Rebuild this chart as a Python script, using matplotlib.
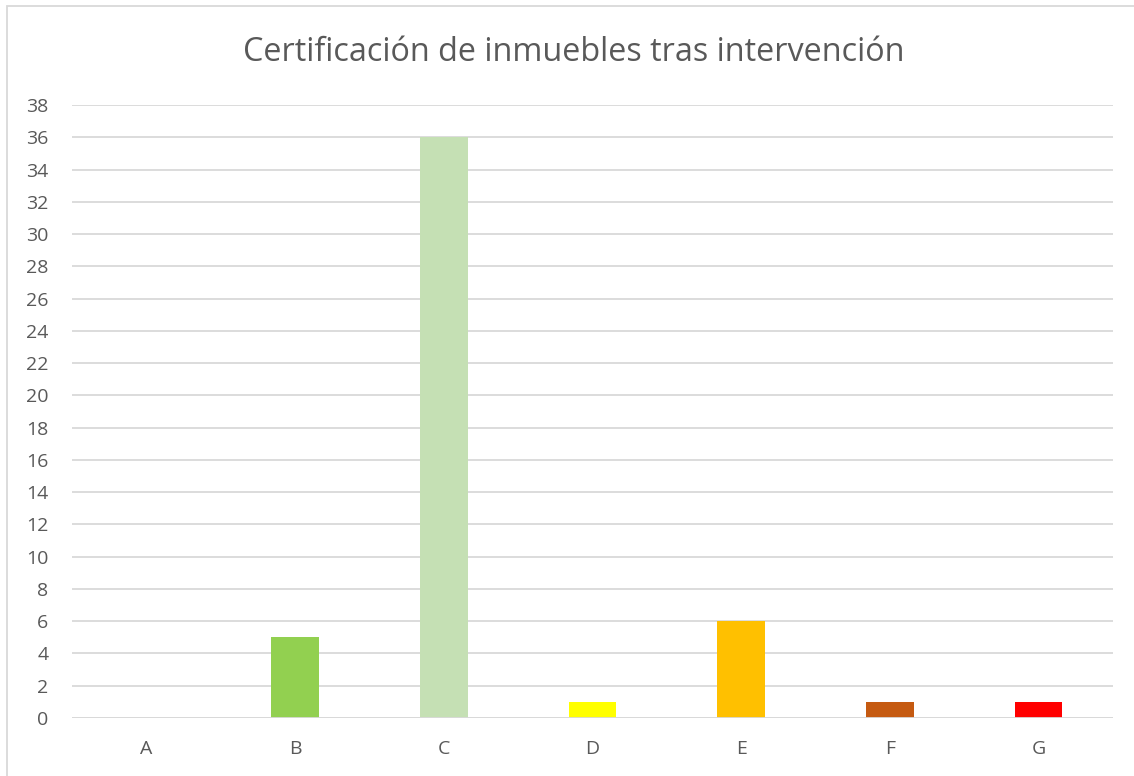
import matplotlib.pyplot as plt
from matplotlib.patches import Rectangle

# Certificación energética por letra
categories = ['A', 'B', 'C', 'D', 'E', 'F', 'G']
counts = [0, 5, 36, 1, 6, 1, 1]
colors = ['#00B050', '#92D050', '#C5E0B4', '#FFFF00', '#FFC000', '#C55A11', '#FF0000']
yticks = list(range(0, 39, 2))

plt.rcParams['font.family'] = ['Open Sans', 'DejaVu Sans']

fig = plt.figure(figsize=(11.34, 7.76), dpi=100)
ax = fig.add_axes([72 / 1134, 58 / 776, 1041 / 1134, 613 / 776])

x = list(range(len(categories)))
ax.bar(x, counts, width=0.32, color=colors, zorder=3)

ax.set_xlim(-0.5, len(categories) - 0.5)
ax.set_ylim(0, 38)
ax.set_yticks(yticks)
ax.set_xticks(x)
ax.set_xticklabels(categories)
ax.grid(axis='y', color='#D9D9D9', linewidth=1.3, zorder=0)
ax.axhline(0, color='#D9D9D9', linewidth=1.3, zorder=4)
for s in ax.spines.values():
    s.set_visible(False)
ax.tick_params(axis='both', length=0, labelsize=14, labelcolor='#595959')
ax.tick_params(axis='x', pad=16)
ax.tick_params(axis='y', pad=17)

fig.text(0.506, 0.932, 'Certificación de inmuebles tras intervención', ha='center',
         va='center', fontsize=23.3, color='#595959')

# chart frame (only top/left visible in the reference)
fig.patches.append(Rectangle((7 / 1134, -0.1), 1.2, 0.1 + 770 / 776, transform=fig.transFigure,
                             fill=False, edgecolor='#D9D9D9', linewidth=1.3))

fig.savefig('out.png', dpi=100)
